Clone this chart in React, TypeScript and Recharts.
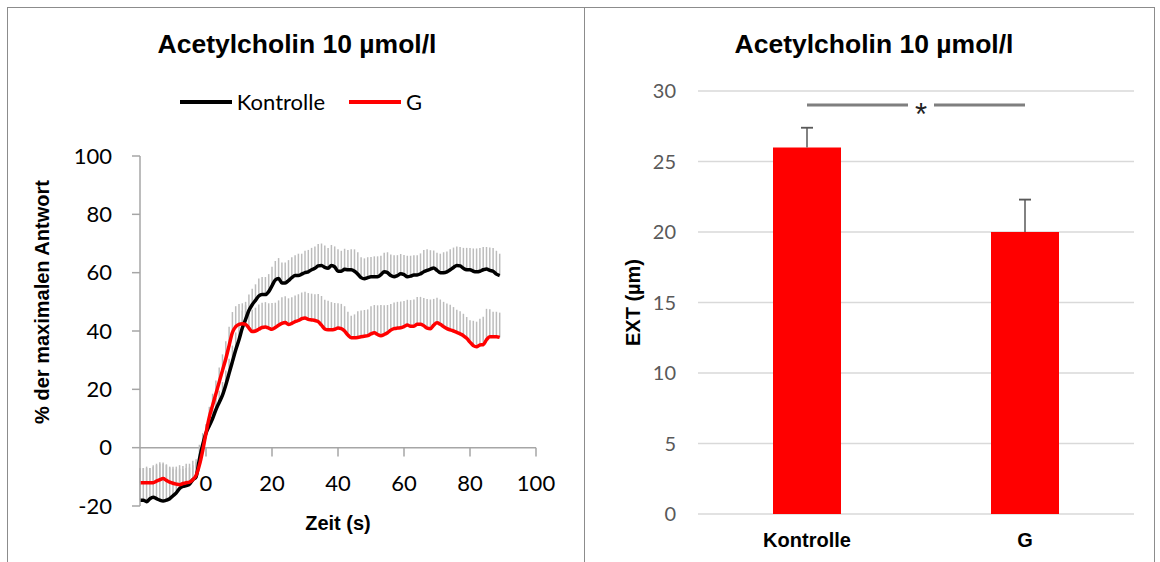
import React from 'react';
import {
  LineChart,
  Line,
  BarChart,
  Bar,
  XAxis,
  YAxis,
  CartesianGrid,
  ErrorBar,
  ReferenceLine,
  Legend,
  Label,
} from 'recharts';

// time course (s) relative to acetylcholine application
const TIME_S = [
  -20, -19, -18, -17, -16, -15, -14, -13, -12, -11, -10, -9, -8, -7, -6, -5, -4, -3, -2, -1,
  0, 1, 2, 3, 4, 5, 6, 7, 8, 9, 10, 11, 12, 13, 14, 15, 16, 17, 18, 19,
  20, 21, 22, 23, 24, 25, 26, 27, 28, 29, 30, 31, 32, 33, 34, 35, 36, 37, 38, 39,
  40, 41, 42, 43, 44, 45, 46, 47, 48, 49, 50, 51, 52, 53, 54, 55, 56, 57, 58, 59,
  60, 61, 62, 63, 64, 65, 66, 67, 68, 69, 70, 71, 72, 73, 74, 75, 76, 77, 78, 79,
  80, 81, 82, 83, 84, 85, 86, 87, 88, 89,
];

// % of maximal response, mean
const KONTROLLE = [
  -18, -18, -18.5, -17.5, -17, -17.5, -18, -18.3, -18, -17.5, -16.5, -15.5, -14, -13.3, -13, -12.5, -11, -10, -4, 1,
  5, 7.5, 10, 13, 15.5, 18, 21.5, 25.5, 29.5, 33.5, 37, 41, 44, 47, 49, 50.5, 52, 52.5, 52.5, 53.5,
  55.5, 57.5, 58, 56.5, 56.5, 57.3, 58.3, 59, 59, 59.5, 60, 60.3, 61, 61.5, 62.3, 62.5, 61.8, 61.5, 62.5, 62,
  60.5, 60.5, 61.2, 61, 61, 60.5, 59.5, 58.3, 57.9, 58.3, 58.6, 58.6, 58.6, 59.3, 60.3, 60, 59, 58.6, 59, 59.6,
  59.3, 58.6, 58.8, 59.2, 59.2, 59.6, 60.3, 60.8, 61.2, 61.6, 60.8, 60, 60, 60.3, 61, 61.8, 62.5, 62.3, 61.5, 61,
  61, 60.5, 60.3, 60.5, 61, 61.3, 60.8, 60.5, 59.5, 59,
];

// upper error (SEM)
const KONTROLLE_SEM = [
  10.5, 11, 11.5, 10.5, 10.5, 11.5, 12.5, 12.8, 12, 11, 10, 9, 8, 7, 7.5, 7, 6.5, 6, 5, 4,
  3, 3, 3.5, 4, 4, 4.5, 5, 5, 5.5, 6, 6, 6, 6, 5.5, 5.5, 5.5, 6, 6, 6, 6,
  6.5, 6.5, 7, 7, 7, 7, 7, 7, 7.5, 7, 7.5, 7.5, 7.5, 7.5, 7.5, 7.5, 7.5, 7, 7, 7,
  7.5, 7, 7, 6.8, 7, 7.5, 7.5, 7, 7, 7, 6.8, 7, 7, 6.5, 6.5, 7, 7.2, 7.4, 7, 6.8,
  6.8, 7.2, 7, 6.8, 6.8, 7, 7.5, 7.2, 6.5, 6, 6, 6.5, 7, 7, 7, 6.8, 6.5, 6.5, 7, 7.5,
  7.5, 7.8, 8, 8, 7.8, 7.5, 7.8, 8, 8, 7.5,
];

const G_MEAN = [
  -12, -12, -12, -12, -12, -11.5, -11, -10.6, -11.2, -11.8, -12.2, -12.5, -12.7, -12.3, -12, -11.8, -11, -9.5, -6, -1,
  5, 10.5, 14.5, 18.5, 22.5, 26.5, 30.5, 35, 39.5, 41.5, 42.3, 42.5, 42.3, 41, 39.8, 40, 40.6, 41.2, 41.4, 41,
  40.6, 41.2, 42, 42.6, 42.9, 42.2, 42.6, 43.2, 43.6, 44.2, 44.5, 44, 43.8, 43.6, 43.2, 42, 40.7, 40.4, 40.4, 40.6,
  41, 40.8, 40, 38.6, 37.7, 37.7, 37.8, 38, 38.2, 38.4, 39, 39.4, 38.8, 38.4, 38.8, 39.4, 40.3, 40.8, 41, 41.1,
  41.5, 42.1, 41.6, 41.6, 42.3, 42.3, 41.8, 41, 40.8, 42, 42.8, 42.3, 41.5, 40.8, 40.4, 40, 39.5, 39, 38.4, 37.5,
  36.2, 35, 34.6, 35.2, 35.3, 37, 38, 38, 38, 37.8,
];

const G_SEM = [
  5, 5, 5.5, 5, 6, 6, 6, 5.5, 5.5, 5, 5, 5, 5.5, 5, 5, 5, 5, 4.5, 4, 3,
  3, 3.5, 4, 4.5, 5, 5.5, 6, 6.5, 7, 7, 7, 7, 6.5, 6.5, 7.5, 8, 8.5, 8.5, 8.5, 8.5,
  9, 8.5, 8.5, 9, 9, 9, 9, 9, 9, 9, 9, 9, 9, 9, 9.5, 10, 10, 10, 9.5, 9,
  8.5, 8.5, 8.5, 8, 7.5, 8, 9, 9, 9, 9, 9.5, 9.5, 10, 10.5, 10, 9.5, 9, 9, 9, 9,
  8.8, 8.6, 9, 9.2, 9.4, 9.4, 9.5, 10, 10, 9, 8.6, 8.5, 8.5, 8.6, 8.6, 8.2, 7.8, 7.8, 7.5, 7.3,
  7.5, 8.5, 8.6, 9, 9.6, 10.6, 9.5, 8.6, 8.6, 8.5,
];

const X_TICKS = [0, 20, 40, 60, 80, 100];
const Y_TICKS = [-20, 0, 20, 40, 60, 80, 100];
const SERIES_ORDER = ['Kontrolle', 'G'];

// EXT (µm), mean and upper SEM
const GROUPS = ['Kontrolle', 'G'];
const EXT_MEAN = [26, 20];
const EXT_SEM = [1.4, 2.3];
const EXT_TICKS = [0, 5, 10, 15, 20, 25, 30];
const SIGNIFICANCE_Y = 29;

const TITLE = 'Acetylcholin 10 µmol/l';

const lineRows = TIME_S.map((t, i) => ({
  t,
  kontrolle: KONTROLLE[i],
  kontrolleErr: [0, KONTROLLE_SEM[i]],
  g: G_MEAN[i],
  gErr: [0, G_SEM[i]],
}));

// stem runs mean -> mean+SEM; the cap entry puts both whisker ends on the top
const barRows = GROUPS.map((name, i) => ({
  name,
  ext: EXT_MEAN[i],
  extErr: [0, EXT_SEM[i]],
  extCap: [-EXT_SEM[i], EXT_SEM[i]],
}));

const ARIAL = '"Liberation Sans", Arial, sans-serif';
const CALIBRI = 'Lato, "Open Sans", sans-serif';
const AXIS_GRAY = '#a6a6a6';

function RotatedTitle(props: any) {
  const { viewBox, value, left, shift } = props;
  const cx = viewBox.x + left;
  const cy = viewBox.y + viewBox.height / 2 + shift;
  return (
    <text
      x={cx}
      y={cy}
      transform={`rotate(-90 ${cx} ${cy})`}
      textAnchor="middle"
      dominantBaseline="central"
      fontFamily={ARIAL}
      fontWeight={700}
      fontSize={20}
      fill="#000"
    >
      {value}
    </text>
  );
}

function BottomTitle(props: any) {
  const { viewBox, value, down } = props;
  return (
    <text
      x={viewBox.x + viewBox.width / 2}
      y={viewBox.y + down}
      textAnchor="middle"
      dominantBaseline="central"
      fontFamily={ARIAL}
      fontWeight={700}
      fontSize={20}
      fill="#000"
    >
      {value}
    </text>
  );
}

function SeriesKey({ payload }: any) {
  const items = (payload ?? [])
    .filter((p: any) => p.type !== 'none')
    .sort((a: any, b: any) => SERIES_ORDER.indexOf(a.value) - SERIES_ORDER.indexOf(b.value));
  return (
    <div
      style={{
        display: 'flex',
        justifyContent: 'center',
        alignItems: 'center',
        fontFamily: CALIBRI,
        fontSize: 22,
        color: '#000',
        lineHeight: '28px',
      }}
    >
      {items.map((p: any, i: number) => (
        <span
          key={p.value}
          style={{ display: 'inline-flex', alignItems: 'center', marginLeft: i ? 24 : 0 }}
        >
          <span
            style={{
              display: 'inline-block',
              width: 52,
              height: 4,
              background: p.color,
              marginRight: 5,
            }}
          />
          {p.value}
        </span>
      ))}
    </div>
  );
}

function StarLabel(props: any) {
  const { viewBox } = props;
  const cx = viewBox.x + viewBox.width / 2 + 5;
  const cy = viewBox.y;
  return (
    <g>
      <rect x={cx - 13} y={cy - 4} width={26} height={8} fill="#fff" />
      <text x={cx} y={cy + 20} textAnchor="middle" fontFamily={ARIAL} fontSize={31} fill="#222">
        *
      </text>
    </g>
  );
}

function TimeCourse() {
  return (
    <LineChart
      width={584}
      height={562}
      data={lineRows}
      margin={{ top: 156, right: 48, bottom: 26, left: 0 }}
    >
      <XAxis
        type="number"
        dataKey="t"
        domain={[-20, 100]}
        ticks={X_TICKS}
        axisLine={false}
        tickLine={false}
        tickSize={0}
        tickMargin={0}
        height={30}
        tick={{ fontFamily: CALIBRI, fontSize: 22, fill: '#000', dy: -31 }}
      >
        <Label value="Zeit (s)" content={<BottomTitle down={17} />} />
      </XAxis>
      <YAxis
        type="number"
        domain={[-20, 100]}
        ticks={Y_TICKS}
        width={140}
        axisLine={{ stroke: AXIS_GRAY, strokeWidth: 1.5 }}
        tickLine={{ stroke: AXIS_GRAY, strokeWidth: 1.5 }}
        tickSize={8}
        tickMargin={20}
        tick={{ fontFamily: CALIBRI, fontSize: 22, fill: '#000' }}
      >
        <Label value="% der maximalen Antwort" content={<RotatedTitle left={42} shift={-29} />} />
      </YAxis>

      <ReferenceLine y={0} stroke={AXIS_GRAY} strokeWidth={1.5} />
      {X_TICKS.map((t) => (
        <ReferenceLine
          key={t}
          segment={[
            { x: t, y: 0 },
            { x: t, y: -3 },
          ]}
          stroke={AXIS_GRAY}
          strokeWidth={1.5}
        />
      ))}

      {/* SEM whiskers sit behind both traces */}
      <Line
        dataKey="kontrolle"
        stroke="none"
        dot={false}
        activeDot={false}
        legendType="none"
        isAnimationActive={false}
      >
        <ErrorBar dataKey="kontrolleErr" direction="y" width={0} stroke="#bcbcbc" strokeWidth={1.5} />
      </Line>
      <Line
        dataKey="g"
        stroke="none"
        dot={false}
        activeDot={false}
        legendType="none"
        isAnimationActive={false}
      >
        <ErrorBar dataKey="gErr" direction="y" width={0} stroke="#bcbcbc" strokeWidth={1.5} />
      </Line>

      <Line
        name="Kontrolle"
        dataKey="kontrolle"
        type="monotone"
        stroke="#000000"
        strokeWidth={3.5}
        dot={false}
        activeDot={false}
        isAnimationActive={false}
      />
      <Line
        name="G"
        dataKey="g"
        type="monotone"
        stroke="#ff0000"
        strokeWidth={3.5}
        dot={false}
        activeDot={false}
        isAnimationActive={false}
      />

      <Legend
        layout="horizontal"
        verticalAlign="middle"
        align="center"
        itemSorter={null}
        content={<SeriesKey />}
        wrapperStyle={{ top: 88, left: 0, width: 602, height: 28 }}
      />
    </LineChart>
  );
}

function Extension() {
  return (
    <BarChart
      width={576}
      height={562}
      data={barRows}
      margin={{ top: 91, right: 26, bottom: 18, left: 0 }}
    >
      <CartesianGrid vertical={false} stroke="#d9d9d9" strokeWidth={1.5} />
      <XAxis
        dataKey="name"
        axisLine={false}
        tickLine={false}
        tickSize={0}
        tickMargin={19}
        height={30}
        tick={{ fontFamily: ARIAL, fontWeight: 700, fontSize: 20, fill: '#000' }}
      />
      <YAxis
        type="number"
        domain={[0, 30]}
        ticks={EXT_TICKS}
        width={114}
        axisLine={false}
        tickLine={false}
        tickSize={0}
        tickMargin={22}
        tick={{ fontFamily: CALIBRI, fontSize: 20, fill: '#595959' }}
      >
        <Label value="EXT (µm)" content={<RotatedTitle left={49} shift={0} />} />
      </YAxis>
      <Bar dataKey="ext" fill="#ff0000" barSize={68} isAnimationActive={false}>
        <ErrorBar dataKey="extErr" direction="y" width={0} stroke="#595959" strokeWidth={1.5} />
        <ErrorBar dataKey="extCap" direction="y" width={6} stroke="#595959" strokeWidth={1.5} />
      </Bar>
      <ReferenceLine
        segment={[
          { x: 'Kontrolle', y: SIGNIFICANCE_Y },
          { x: 'G', y: SIGNIFICANCE_Y },
        ]}
        stroke="#7f7f7f"
        strokeWidth={3}
        label={<StarLabel />}
      />
    </BarChart>
  );
}

const titleStyle: React.CSSProperties = {
  position: 'absolute',
  top: 44,
  transform: 'translate(-50%, -50%)',
  fontFamily: ARIAL,
  fontWeight: 700,
  fontSize: 26.5,
  color: '#000',
  whiteSpace: 'nowrap',
};

const frameLine = '1.5px solid #8c8c8c';

export default function App() {
  return (
    <div
      style={{
        position: 'absolute',
        left: 0,
        top: 0,
        width: 1160,
        height: 562,
        background: '#fff',
        overflow: 'hidden',
      }}
    >
      <div style={{ position: 'absolute', left: 0, top: 0 }}>
        <TimeCourse />
      </div>
      <div style={{ position: 'absolute', left: 584, top: 0 }}>
        <Extension />
      </div>
      <div style={{ ...titleStyle, left: 297 }}>{TITLE}</div>
      <div style={{ ...titleStyle, left: 874 }}>{TITLE}</div>

      <div
        style={{
          position: 'absolute',
          left: 7,
          top: 7,
          width: 1146,
          height: 570,
          borderLeft: frameLine,
          borderTop: frameLine,
          borderRight: frameLine,
          pointerEvents: 'none',
        }}
      />
      <div
        style={{
          position: 'absolute',
          left: 584,
          top: 7,
          width: 0,
          height: 570,
          borderLeft: frameLine,
          pointerEvents: 'none',
        }}
      />
    </div>
  );
}
